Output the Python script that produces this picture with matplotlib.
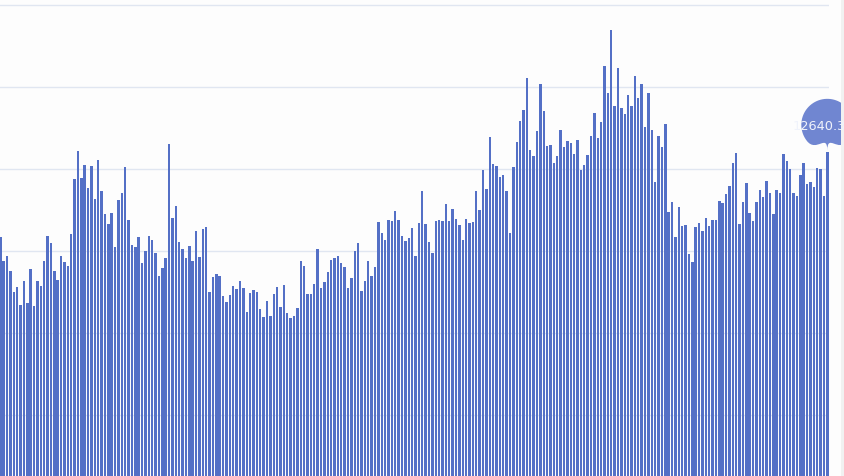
import matplotlib.pyplot as plt
import numpy as np
from matplotlib.path import Path
from matplotlib.patches import PathPatch, Rectangle
from matplotlib.transforms import IdentityTransform

# daily values (left to right)
values = [
    9510, 8650, 8810, 8260, 7490, 7690, 7030, 7920, 7100, 8350,
    7000, 7920, 7710, 8640, 9570, 9290, 8260, 7940, 8810, 8590,
    8470, 9620, 11640, 12660, 11670, 12160, 11310, 12110, 10900, 12340,
    11200, 10370, 9980, 10410, 9160, 10860, 11140, 12070, 10140, 9230,
    9160, 9520, 8580, 9010, 9540, 9420, 8920, 8080, 8370, 8750,
    12920, 10210, 10640, 9340, 9070, 8740, 9180, 8630, 9730, 8780,
    9810, 9870, 7510, 8050, 8180, 8080, 7370, 7130, 7400, 7730,
    7620, 7900, 7640, 6780, 7480, 7590, 7490, 6880, 6580, 7180,
    6630, 7420, 7680, 6960,
    7760, 6730, 6540, 6620, 6930, 8630, 8460, 7440, 7420, 7790,
    9090, 7650, 7880, 8230, 8670, 8750, 8830, 8560, 8430, 7660,
    8010, 9020, 9310, 7530, 7920, 8650, 8080, 8420, 10060, 9670,
    9400, 10150, 10090, 10460, 10130, 9560, 9370, 9480, 9850, 8820,
    10030, 11200, 10010, 9330, 8920, 10100, 10140, 10100, 10720, 10120,
    10540, 10170, 9970, 9420, 10190, 10040, 10060, 11190, 10510, 11970,
    11270, 13170, 12190, 12130, 11720, 11800, 11200, 9670, 12080, 13000,
    13780, 14180, 15330, 12690, 12480, 13390, 15110, 14140, 12860, 12890,
    12240, 12470, 13440,
    12820, 13030, 12960, 12560, 13070, 11970, 12140, 12520, 13220, 14070,
    13130, 13730, 15770, 14800, 17090, 14330, 15720, 14250, 14010, 14730,
    14320, 15420, 14610, 15110, 13540, 14780, 13430, 11530, 13210, 12820,
    13640, 10430, 10790, 9510, 10610, 9920, 9950, 8900, 8610, 9900,
    10020, 9740, 10200, 9920, 10150, 10140, 10830, 10770, 11090, 11390,
    12230, 12580, 10010, 10800, 11510, 10400, 10120, 10800, 11230, 10980,
    11580, 11140, 10370, 11240, 11140, 12550, 12290, 12020, 11130, 11020,
    11790, 12220, 11470, 11530, 11360, 12030, 12000, 11020, 12640.3,
]
grid_values = [3000, 6000, 9000, 12000, 15000, 18000]
last_label = '12640.3'

bar_color = '#5470c6'
pin_color = '#7086d1'
grid_color = '#e0e6f1'

fig = plt.figure(figsize=(8.45, 4.77), dpi=100)
fig.patch.set_facecolor('#fdfdfd')

# the chart is cropped: the plot starts left of the picture and below it
ax = fig.add_axes([0, 0, 829 / 845, 1])
ax.set_facecolor('none')
x = np.arange(len(values))
ax.bar(x, values, width=0.72, color=bar_color, zorder=2)
for g in grid_values:
    ax.axhline(g, color=grid_color, lw=1, zorder=1)
ax.set_xlim(-0.09, len(values) - 0.5)
ax.set_ylim(769, 18232)
ax.axis('off')

# pin marker on the last bar (echarts 'pin' shape)
tx, ty = ax.transData.transform((x[-1], values[-1]))
ty += 1
r, h = 26.0, 68.0
dy = r * r / (h - r)
cy = -h + r + dy
ang = np.arcsin(dy / r)
dx = np.cos(ang) * r
tanx, tany = np.sin(ang), np.cos(ang)
cp1, cp2 = r * 0.6, r * 0.7
pts = []
codes = []
for t in np.linspace(np.pi - ang, 2 * np.pi + ang, 60):
    pts.append((r * np.cos(t), cy + r * np.sin(t)))
    codes.append(Path.LINETO)
codes[0] = Path.MOVETO
pts += [(dx - tanx * cp1, cy + dy + tany * cp1), (0, -cp2), (0, 0)]
codes += [Path.CURVE4] * 3
pts += [(0, -cp2), (-dx + tanx * cp1, cy + dy + tany * cp1), (-dx, cy + dy)]
codes += [Path.CURVE4] * 3
pts.append((0, 0))
codes.append(Path.CLOSEPOLY)
pts = [(tx + px, ty - py) for px, py in pts]
pin = PathPatch(Path(pts, codes), facecolor=pin_color, edgecolor='none',
                transform=IdentityTransform())
fig.add_artist(pin)
fig.text((tx - 8) / 845, (ty - cy - 1) / 477, last_label, color='#f0f3fb',
         fontsize=9.3, ha='center', va='center')

# thin light strip at the right edge
fig.add_artist(Rectangle((841 / 845, 0), 4 / 845, 1, transform=fig.transFigure,
                         facecolor='#f1f1f1', edgecolor='none'))

fig.savefig('out.png', dpi=100, facecolor=fig.get_facecolor())
